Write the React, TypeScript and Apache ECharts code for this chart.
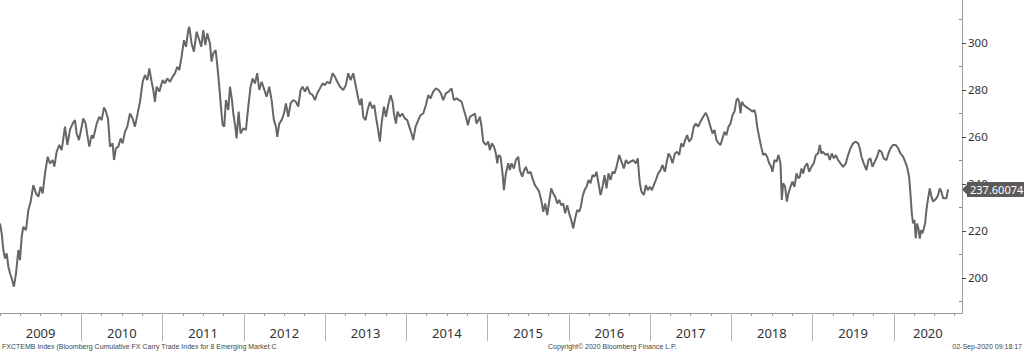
import React, { useEffect, useRef } from "react";
import * as echarts from "echarts";

// ---- Axis settings / tick labels ----
const yearLabels = ["2009", "2010", "2011", "2012", "2013", "2014", "2015", "2016", "2017", "2018", "2019", "2020"];
const xMin = 2009;
const xMax = 2020.84;
const yMin = 185;
const yMax = 318.2;
const yLabelTicks = [200, 220, 240, 260, 280, 300];
const yMinorTicks = [190, 210, 230, 250, 270, 290, 310];
const lastValue = 237.60074;
const lastValueText = "237.60074";
const footerLeft = "FXCTEMB Index (Bloomberg Cumulative FX Carry Trade Index for 8 Emerging Market C";
const footerMid = "Copyright\u00a9 2020 Bloomberg Finance L.P.";
const footerRight = "02-Sep-2020 09:18:17";

// ---- Series values: [decimal year, index level] ----
const seg2009: [number, number][] = [
  [2009.000, 223.1], [2009.021, 218.9], [2009.041, 211.8], [2009.062, 208.2], [2009.082, 210.4], [2009.103, 204.7],
  [2009.123, 201.9], [2009.144, 199.7], [2009.172, 196.2], [2009.197, 201.9], [2009.226, 211.8], [2009.246, 207.5],
  [2009.267, 217.5], [2009.287, 221.7], [2009.320, 220.3], [2009.349, 228.8], [2009.377, 232.3], [2009.410, 239.4],
  [2009.443, 235.9], [2009.472, 234.5], [2009.500, 238.7], [2009.525, 235.9], [2009.554, 244.4], [2009.587, 251.5],
  [2009.615, 248.7], [2009.648, 250.1], [2009.669, 247.3], [2009.697, 253.6], [2009.730, 256.5], [2009.759, 254.3],
  [2009.800, 264.3], [2009.829, 256.5], [2009.861, 262.9], [2009.894, 265.6], [2009.923, 267.1], [2009.943, 261.4],
  [2009.972, 258.6], [2009.997, 262.9],
];
const seg2010: [number, number][] = [
  [2010.025, 267.8], [2010.054, 265.6], [2010.075, 260.7], [2010.099, 255.8], [2010.128, 260.7], [2010.148, 259.3],
  [2010.190, 265.6], [2010.222, 268.5], [2010.251, 267.1], [2010.280, 272.5], [2010.304, 270.7], [2010.329, 267.8],
  [2010.354, 255.8], [2010.386, 257.2], [2010.403, 250.1], [2010.427, 255.1], [2010.456, 255.8], [2010.485, 259.3],
  [2010.509, 257.2], [2010.538, 262.1], [2010.567, 264.3], [2010.600, 269.9], [2010.632, 267.8], [2010.661, 264.3],
  [2010.690, 269.2], [2010.723, 274.9], [2010.756, 283.4], [2010.784, 286.3], [2010.813, 284.1], [2010.838, 289.1],
  [2010.866, 283.4], [2010.887, 279.9], [2010.907, 274.9], [2010.928, 281.3], [2010.961, 279.2],
];
const seg2011: [number, number][] = [
  [2010.969, 279.2], [2011.002, 284.1], [2011.030, 282.7], [2011.059, 284.8], [2011.092, 283.4], [2011.125, 285.6],
  [2011.153, 287.0], [2011.182, 289.8], [2011.207, 288.4], [2011.235, 294.1], [2011.264, 301.1], [2011.289, 298.3],
  [2011.317, 305.4], [2011.330, 306.8], [2011.358, 299.7], [2011.387, 296.2], [2011.420, 304.7], [2011.453, 301.1],
  [2011.477, 298.3], [2011.502, 305.4], [2011.527, 299.0], [2011.551, 304.0], [2011.584, 299.7], [2011.604, 292.0],
  [2011.625, 295.5], [2011.654, 296.9], [2011.674, 290.5], [2011.699, 281.3], [2011.719, 272.8], [2011.740, 265.0],
  [2011.760, 264.3], [2011.781, 275.6], [2011.810, 271.4], [2011.830, 281.3], [2011.855, 275.6], [2011.871, 269.9],
  [2011.896, 264.3], [2011.912, 259.3], [2011.937, 270.7], [2011.961, 261.4], [2011.994, 263.6],
];
const seg2012: [number, number][] = [
  [2012.027, 262.9], [2012.056, 272.8], [2012.084, 281.3], [2012.109, 284.8], [2012.138, 282.7], [2012.166, 287.0],
  [2012.191, 279.9], [2012.220, 283.4], [2012.248, 280.6], [2012.281, 277.0], [2012.314, 281.3], [2012.343, 275.6],
  [2012.371, 267.1], [2012.396, 264.3], [2012.413, 260.0], [2012.437, 265.6], [2012.466, 267.1], [2012.495, 269.9],
  [2012.519, 274.2], [2012.548, 268.5], [2012.577, 274.2], [2012.609, 275.6], [2012.642, 274.9], [2012.671, 272.8],
  [2012.700, 279.9], [2012.724, 281.3], [2012.753, 279.2], [2012.782, 281.3], [2012.814, 278.5], [2012.847, 277.8],
  [2012.876, 275.6], [2012.905, 278.5], [2012.938, 280.6], [2012.970, 282.7], [2012.999, 282.0],
];
const seg2013: [number, number][] = [
  [2013.028, 283.4], [2013.061, 282.7], [2013.093, 287.0], [2013.122, 285.6], [2013.151, 283.4], [2013.184, 281.3],
  [2013.225, 279.9], [2013.257, 282.0], [2013.286, 287.0], [2013.315, 284.1], [2013.348, 287.0], [2013.381, 281.3],
  [2013.409, 276.3], [2013.430, 273.5], [2013.450, 276.3], [2013.471, 268.5], [2013.499, 267.1], [2013.524, 271.4],
  [2013.553, 274.9], [2013.582, 272.1], [2013.606, 273.5], [2013.627, 268.5], [2013.647, 264.3], [2013.676, 257.9],
  [2013.696, 265.6], [2013.725, 272.8], [2013.750, 268.5], [2013.778, 273.5], [2013.807, 277.7], [2013.832, 274.9],
  [2013.848, 269.9], [2013.873, 265.6], [2013.893, 270.7], [2013.922, 268.5], [2013.951, 269.9], [2013.983, 267.8],
];
const seg2014: [number, number][] = [
  [2014.012, 267.1], [2014.037, 264.3], [2014.065, 261.4], [2014.086, 258.6], [2014.115, 264.3], [2014.148, 267.1],
  [2014.176, 269.2], [2014.209, 269.9], [2014.242, 273.5], [2014.271, 277.7], [2014.299, 276.3], [2014.332, 279.2],
  [2014.365, 280.6], [2014.398, 279.9], [2014.426, 278.5], [2014.455, 275.6], [2014.488, 278.5], [2014.521, 279.2],
  [2014.558, 280.6], [2014.586, 275.6], [2014.619, 276.3], [2014.652, 275.6], [2014.681, 274.9], [2014.709, 271.4],
  [2014.734, 268.5], [2014.759, 264.9], [2014.783, 268.5], [2014.816, 269.2], [2014.845, 269.9], [2014.865, 265.6],
  [2014.898, 267.8], [2014.906, 268.5], [2014.927, 264.3], [2014.947, 257.9], [2014.980, 256.5],
];
const seg2015: [number, number][] = [
  [2015.009, 257.9], [2015.029, 254.3], [2015.054, 257.2], [2015.079, 255.8], [2015.103, 252.9], [2015.120, 248.7],
  [2015.136, 252.2], [2015.161, 251.5], [2015.185, 244.4], [2015.202, 237.3], [2015.226, 244.4], [2015.255, 248.7],
  [2015.275, 245.8], [2015.296, 248.7], [2015.325, 246.5], [2015.349, 250.1], [2015.378, 251.5], [2015.398, 245.8],
  [2015.427, 243.0], [2015.452, 245.8], [2015.472, 247.2], [2015.501, 244.4], [2015.530, 245.1], [2015.554, 242.3],
  [2015.583, 239.4], [2015.612, 238.0], [2015.636, 236.6], [2015.665, 232.3], [2015.686, 228.1], [2015.710, 231.6],
  [2015.735, 226.7], [2015.759, 232.3], [2015.784, 238.0], [2015.809, 235.9], [2015.833, 234.5], [2015.858, 231.6],
  [2015.882, 233.1], [2015.907, 230.9], [2015.932, 231.6], [2015.956, 227.4], [2015.981, 230.9],
];
const seg2016: [number, number][] = [
  [2016.005, 227.4], [2016.030, 224.6], [2016.055, 221.0], [2016.079, 225.3], [2016.104, 228.8], [2016.129, 228.1],
  [2016.149, 230.2], [2016.170, 234.5], [2016.194, 237.3], [2016.219, 238.7], [2016.243, 241.6], [2016.268, 240.2],
  [2016.293, 243.7], [2016.317, 243.0], [2016.342, 245.1], [2016.366, 240.2], [2016.391, 235.2], [2016.416, 238.7],
  [2016.440, 243.7], [2016.465, 238.0], [2016.489, 244.4], [2016.514, 241.6], [2016.539, 245.1], [2016.563, 244.4],
  [2016.588, 247.2], [2016.621, 252.2], [2016.649, 249.4], [2016.678, 246.5], [2016.703, 250.1], [2016.731, 248.7],
  [2016.760, 249.4], [2016.793, 250.1], [2016.826, 248.7], [2016.850, 250.8], [2016.867, 243.0], [2016.875, 240.2],
  [2016.895, 236.6], [2016.924, 235.2], [2016.949, 239.4], [2016.973, 237.3], [2016.998, 238.7],
];
const seg2017: [number, number][] = [
  [2017.023, 237.3], [2017.047, 239.4], [2017.072, 241.6], [2017.101, 244.4], [2017.129, 245.8], [2017.154, 248.0],
  [2017.183, 245.1], [2017.203, 248.7], [2017.228, 252.9], [2017.252, 251.5], [2017.277, 248.7], [2017.306, 252.9],
  [2017.334, 253.6], [2017.359, 252.2], [2017.384, 257.2], [2017.408, 255.8], [2017.433, 258.6], [2017.457, 260.7],
  [2017.482, 257.9], [2017.511, 259.3], [2017.539, 264.3], [2017.564, 265.6], [2017.593, 264.3], [2017.621, 266.4],
  [2017.654, 268.5], [2017.687, 270.2], [2017.716, 267.8], [2017.744, 264.3], [2017.769, 261.4], [2017.794, 262.9],
  [2017.818, 258.6], [2017.843, 257.2], [2017.868, 256.5], [2017.892, 259.3], [2017.917, 262.1], [2017.941, 260.7],
  [2017.966, 264.3], [2017.991, 265.6],
];
const seg2018: [number, number][] = [
  [2018.015, 269.2], [2018.040, 270.7], [2018.064, 275.6], [2018.081, 276.3], [2018.097, 274.9], [2018.114, 269.9],
  [2018.130, 274.9], [2018.155, 273.5], [2018.179, 272.8], [2018.208, 272.1], [2018.237, 271.4], [2018.261, 270.7],
  [2018.286, 271.4], [2018.302, 269.2], [2018.319, 264.3], [2018.343, 260.0], [2018.368, 255.8], [2018.393, 252.2],
  [2018.417, 252.9], [2018.442, 251.5], [2018.466, 248.7], [2018.491, 247.2], [2018.507, 245.1], [2018.532, 250.1],
  [2018.557, 249.4], [2018.581, 252.2], [2018.606, 248.7], [2018.622, 233.1], [2018.639, 240.2], [2018.663, 238.7],
  [2018.684, 232.4], [2018.704, 235.9], [2018.729, 238.7], [2018.753, 240.9], [2018.778, 238.7], [2018.803, 244.4],
  [2018.827, 242.3], [2018.844, 243.0], [2018.864, 246.5], [2018.885, 244.4], [2018.905, 247.2], [2018.934, 248.7],
  [2018.959, 245.1], [2018.987, 247.2],
];
const seg2019: [number, number][] = [
  [2019.016, 248.7], [2019.041, 252.2], [2019.069, 252.9], [2019.090, 256.5], [2019.110, 252.9], [2019.131, 253.6],
  [2019.164, 252.2], [2019.188, 252.9], [2019.213, 250.1], [2019.238, 252.9], [2019.262, 250.8], [2019.287, 252.2],
  [2019.315, 250.1], [2019.344, 248.7], [2019.377, 247.2], [2019.410, 248.7], [2019.438, 252.2], [2019.467, 255.1],
  [2019.500, 257.2], [2019.533, 257.9], [2019.562, 257.2], [2019.582, 255.1], [2019.603, 251.5], [2019.631, 248.7],
  [2019.664, 245.8], [2019.689, 250.1], [2019.713, 250.8], [2019.738, 247.2], [2019.767, 249.4], [2019.795, 251.5],
  [2019.820, 254.3], [2019.849, 253.6], [2019.877, 250.8], [2019.910, 250.1], [2019.935, 252.9], [2019.959, 255.1],
  [2019.992, 256.5],
];
const seg2020: [number, number][] = [
  [2020.025, 256.5], [2020.054, 255.1], [2020.082, 252.9], [2020.115, 251.5], [2020.140, 249.4], [2020.164, 247.2],
  [2020.189, 243.0], [2020.205, 235.9], [2020.222, 227.4], [2020.238, 223.1], [2020.255, 224.6], [2020.271, 216.7],
  [2020.287, 223.1], [2020.304, 221.0], [2020.320, 216.7], [2020.337, 220.3], [2020.353, 218.9], [2020.370, 221.0],
  [2020.386, 223.1], [2020.402, 228.8], [2020.423, 233.8], [2020.443, 238.0], [2020.464, 234.5], [2020.484, 232.4],
  [2020.505, 233.1], [2020.525, 233.8], [2020.546, 235.2], [2020.566, 238.0], [2020.587, 236.6], [2020.607, 233.8],
  [2020.632, 233.8], [2020.648, 233.8], [2020.669, 237.60074],
];

const FONT = "'Noto Sans', 'Liberation Sans', sans-serif";

export default function App() {
  const ref = useRef<HTMLDivElement>(null);

  useEffect(() => {
    if (!ref.current) return;
    const chart = echarts.init(ref.current, null, { renderer: "svg" });

    const data = [
      ...seg2009, ...seg2010, ...seg2011, ...seg2012, ...seg2013, ...seg2014,
      ...seg2015, ...seg2016, ...seg2017, ...seg2018, ...seg2019, ...seg2020,
    ];
    const yearStarts = yearLabels.map(Number);
    const quarterTicks: number[] = [];
    yearStarts.forEach((y) => {
      for (let q = 0; q < 4; q++) {
        const t = y + q / 4;
        if (t <= xMax) quarterTicks.push(t);
      }
    });
    const labelCenters = yearStarts.map((y) => (y + Math.min(y + 1, xMax)) / 2);

    chart.setOption({
      animation: false,
      backgroundColor: "#ffffff",
      grid: { left: 0, right: 62, top: 0, bottom: 39, containLabel: false },
      xAxis: [
        {
          type: "value",
          min: xMin,
          max: xMax,
          position: "bottom",
          axisLine: { show: true, lineStyle: { color: "#9a9a9a", width: 1 } },
          axisTick: { show: true, customValues: quarterTicks, length: 3, lineStyle: { color: "#9a9a9a" } },
          axisLabel: {
            show: true,
            customValues: labelCenters,
            formatter: (v: number) => String(Math.floor(v + 1e-6)),
            margin: 13,
            fontSize: 13,
            color: "#333333",
            fontFamily: FONT,
          },
          splitLine: { show: false },
        },
        {
          type: "value",
          min: xMin,
          max: xMax,
          position: "bottom",
          axisLine: { show: false },
          axisTick: { show: true, customValues: yearStarts.slice(1), length: 28, lineStyle: { color: "#b5b5b5" } },
          axisLabel: { show: false },
          splitLine: { show: false },
        },
      ],
      yAxis: [
        {
          type: "value",
          position: "right",
          min: yMin,
          max: yMax,
          axisLine: { show: true, lineStyle: { color: "#9a9a9a", width: 1 } },
          axisTick: { show: true, customValues: yLabelTicks, length: 4, lineStyle: { color: "#444444" } },
          axisLabel: {
            show: true,
            customValues: yLabelTicks,
            margin: 6,
            fontSize: 11.5,
            color: "#333333",
            fontFamily: FONT,
          },
          splitLine: { show: false },
        },
        {
          type: "value",
          position: "right",
          min: yMin,
          max: yMax,
          axisLine: { show: false },
          axisTick: { show: true, inside: true, customValues: yMinorTicks, length: 3, lineStyle: { color: "#888888" } },
          axisLabel: { show: false },
          splitLine: { show: false },
        },
      ],
      series: [
        {
          type: "line",
          xAxisIndex: 0,
          yAxisIndex: 0,
          data,
          symbol: "none",
          showSymbol: false,
          lineStyle: { color: "#666666", width: 2 },
          markLine: {
            silent: true,
            symbol: ["none", "none"],
            lineStyle: { width: 0, color: "rgba(0,0,0,0)", type: "solid" },
            label: {
              show: true,
              position: "end",
              distance: 5,
              formatter: () => lastValueText,
              color: "#ffffff",
              backgroundColor: "#5b5b5b",
              padding: [2, 2, 2, 3],
              fontSize: 11,
              fontFamily: FONT,
              opacity: 1,
            },
            emphasis: { disabled: true },
            data: [{ yAxis: lastValue }],
          },
          markPoint: {
            silent: true,
            symbol: "triangle",
            symbolSize: [12, 6],
            symbolRotate: 90,
            symbolOffset: [3, 0],
            itemStyle: { color: "#5b5b5b" },
            label: { show: false },
            data: [{ coord: [xMax, lastValue] }],
          },
        },
      ],
      graphic: [
        {
          type: "text",
          left: 2,
          top: 343,
          style: { text: footerLeft, fill: "#444444", font: "7px 'Liberation Sans', sans-serif" },
        },
        {
          type: "text",
          left: 548,
          top: 343,
          style: { text: footerMid, fill: "#444444", font: "7px 'Liberation Sans', sans-serif" },
        },
        {
          type: "text",
          right: 2,
          top: 343,
          style: { text: footerRight, fill: "#444444", font: "7px 'Liberation Sans', sans-serif" },
        },
      ],
    });

    return () => chart.dispose();
  }, []);

  return (
    <div
      ref={ref}
      style={{ position: "absolute", left: 0, top: 0, width: 1024, height: 352, background: "#fff" }}
    />
  );
}
